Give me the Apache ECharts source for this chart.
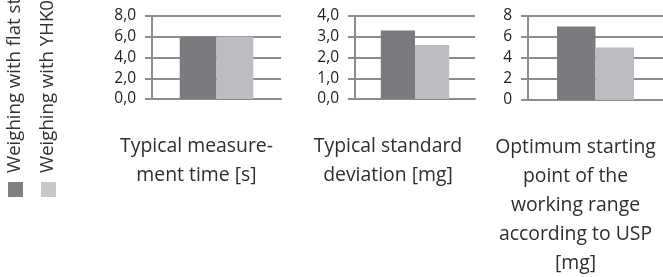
<!DOCTYPE html>
<html>
<head>
<meta charset="utf-8">
<script src="https://cdn.jsdelivr.net/npm/echarts@6/dist/echarts.min.js"></script>
<style>
  html, body { margin: 0; padding: 0; background: #fff; }
  #chart { width: 663px; height: 277px; }
</style>
</head>
<body>
<div id="chart"></div>
<script>
// data
var seriesNames = ["Weighing with flat standard weighing pan", "Weighing with YHK01 funnel weighing pan"];
var categories = [
  "Typical measure-\nment time [s]",
  "Typical standard\ndeviation [mg]",
  "Optimum starting\npoint of the\nworking range\naccording to USP\n[mg]"
];
var flatValues = [6.0, 3.3, 7];
var funnelValues = [6.0, 2.6, 5];
var yMax = [8, 4, 8];
var yStep = [2, 1, 2];
var yDecimals = [1, 1, 0];

var colors = ["#7b7b7f", "#bdbdc1"];
var legendColors = ["#808080", "#c8c8c8"];
var fontFamily = "'Open Sans', sans-serif";

// layout of the three small panels (px)
var grids = [
  { left: 152, width: 129, top: 16, height: 83, outerBoundsMode: "none" },
  { left: 355, width: 120, top: 16, height: 83, outerBoundsMode: "none" },
  { left: 528, width: 135, top: 16, height: 84, outerBoundsMode: "none" }
];
// category labels sit a bit left of the bars (padding on the right shifts them)
var labelShift = [40, 54, 40];

var chart = echarts.init(document.getElementById("chart"));

var option = {
  animation: false,
  color: colors,
  grid: grids,
  xAxis: [],
  yAxis: [],
  series: [],
  graphic: []
};

categories.forEach(function (cat, i) {
  option.xAxis.push({
    type: "category",
    gridIndex: i,
    data: [cat],
    axisLine: { lineStyle: { color: "#8c8c8c", width: 2 } },
    axisTick: { show: false },
    axisLabel: {
      interval: 0,
      margin: 33,
      fontFamily: fontFamily,
      fontSize: 19.4,
      lineHeight: 29,
      color: "#2e2e2e",
      align: "center",
      padding: [0, labelShift[i], 0, 0]
    }
  });
  option.yAxis.push({
    type: "value",
    gridIndex: i,
    min: 0,
    max: yMax[i],
    interval: yStep[i],
    axisLine: { show: true, lineStyle: { color: "#8c8c8c", width: 2 } },
    axisTick: { show: true, length: 7, lineStyle: { color: "#8c8c8c", width: 2 } },
    splitLine: { lineStyle: { color: "#8c8c8c", width: 2 } },
    axisLabel: {
      margin: 16,
      fontFamily: fontFamily,
      fontSize: 15.5,
      color: "#1e1e1e",
      formatter: (function (d) {
        return function (v) { return v.toFixed(d).replace(".", ","); };
      })(yDecimals[i])
    }
  });
  option.series.push({
    name: seriesNames[0],
    type: "bar",
    xAxisIndex: i,
    yAxisIndex: i,
    data: [flatValues[i]],
    barGap: 0,
    barCategoryGap: "43%",
    itemStyle: { color: colors[0] }
  });
  option.series.push({
    name: seriesNames[1],
    type: "bar",
    xAxisIndex: i,
    yAxisIndex: i,
    data: [funnelValues[i]],
    barGap: 0,
    barCategoryGap: "43%",
    itemStyle: { color: colors[1] }
  });
});

// rotated legend at the left edge
var legendX = [15, 48];
seriesNames.forEach(function (name, i) {
  option.graphic.push({
    type: "rect",
    left: legendX[i] - 7,
    top: 182,
    shape: { width: 15, height: 15 },
    style: { fill: legendColors[i] }
  });
  option.graphic.push({
    type: "text",
    x: legendX[i],
    y: 173,
    rotation: Math.PI / 2,
    style: {
      text: name,
      fontFamily: fontFamily,
      fontSize: 18.6,
      fill: "#333",
      align: "left",
      verticalAlign: "middle"
    }
  });
});

chart.setOption(option);
</script>
</body>
</html>
